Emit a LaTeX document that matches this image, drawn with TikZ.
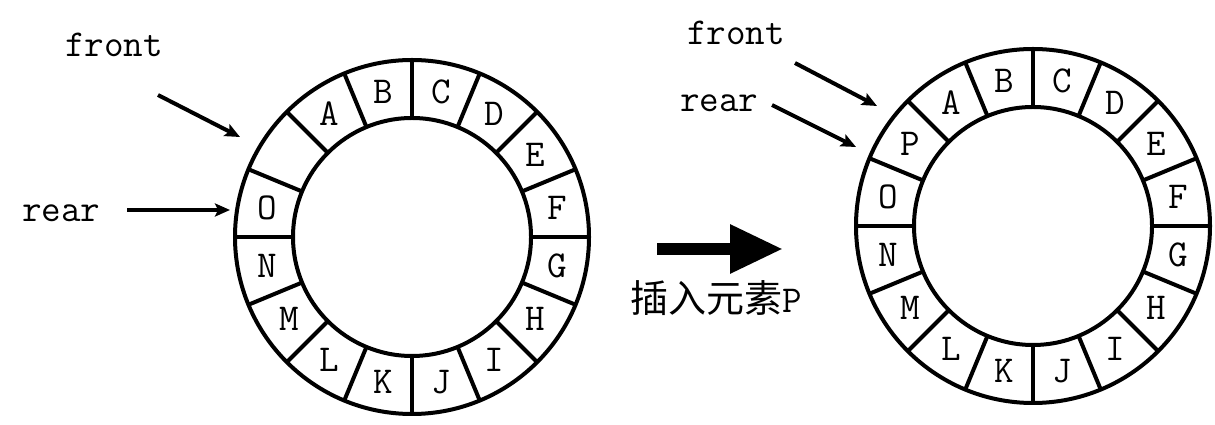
\documentclass[tikz,border=0pt]{standalone}
\usepackage{fontspec}
\newfontfamily\cjk{Noto Sans CJK SC}
\usepackage{tikz}
\usetikzlibrary{arrows.meta,positioning,calc}
\tikzset{
  ring/.style={draw=black,line width=4pt},
  slot/.style={font=\fontsize{38}{40}\selectfont\ttfamily,inner sep=0pt},
  lbl/.style={font=\fontsize{38}{40}\selectfont\ttfamily,inner sep=0pt,anchor=base west},
  ptr/.style={-{Stealth[length=15pt,width=13pt,inset=3pt]},line width=4pt},
  bigarr/.style={-{Triangle[length=53pt,width=46pt]},line width=12pt},
}
\begin{document}
\begin{tikzpicture}[x=1pt,y=1pt]
  \useasboundingbox (0,0) rectangle (1215,425);
  % left queue
  \coordinate (Lctr) at (412,188);
  \draw[ring] (Lctr) circle[radius=177];
  \draw[ring] (Lctr) circle[radius=119];
  \foreach \a in {0,22.5,...,337.5}
    \draw[ring] ([shift={(\a:119)}]Lctr) -- ([shift={(\a:177)}]Lctr);
  \foreach \s [count=\i, evaluate=\i as \ang using 146.25-22.5*\i] in {A,B,C,D,E,F,G,H,I,J,K,L,M,N,O}
    \node[slot] (L\s) at ([shift={(\ang:148)}]Lctr) {\s};
  \node[lbl] (Lfront) at (65,368) {front};
  \node[lbl] (Lrear) at (22,203) {rear};
  \coordinate (Lf1) at (158,330);
  \coordinate (Lf2) at (240,288);
  \coordinate (Lr1) at (127,215);
  \coordinate (Lr2) at (230,215);
  \draw[ptr] (Lf1) -- (Lf2);
  \draw[ptr] (Lr1) -- (Lr2);
  % insert step
  \coordinate (B1) at (657,176);
  \coordinate (B2) at (783,176);
  \draw[bigarr] (B1) -- (B2);
  \node[lbl] (ins) at (630,112) {{\cjk\fontsize{38}{40}\selectfont 插入元素}P};
  % right queue
  \coordinate (Rctr) at (1033,199);
  \draw[ring] (Rctr) circle[radius=177];
  \draw[ring] (Rctr) circle[radius=119];
  \foreach \a in {0,22.5,...,337.5}
    \draw[ring] ([shift={(\a:119)}]Rctr) -- ([shift={(\a:177)}]Rctr);
  \foreach \s [count=\i, evaluate=\i as \ang using 146.25-22.5*\i] in {A,B,C,D,E,F,G,H,I,J,K,L,M,N,O,P}
    \node[slot] (R\s) at ([shift={(\ang:148)}]Rctr) {\s};
  \node[lbl] (Rfront) at (687,380) {front};
  \node[lbl] (Rrear) at (680,313) {rear};
  \coordinate (Rf1) at (795,362);
  \coordinate (Rf2) at (877,319);
  \coordinate (Rr1) at (772,320);
  \coordinate (Rr2) at (856,278);
  \draw[ptr] (Rf1) -- (Rf2);
  \draw[ptr] (Rr1) -- (Rr2);
\end{tikzpicture}
\end{document}
